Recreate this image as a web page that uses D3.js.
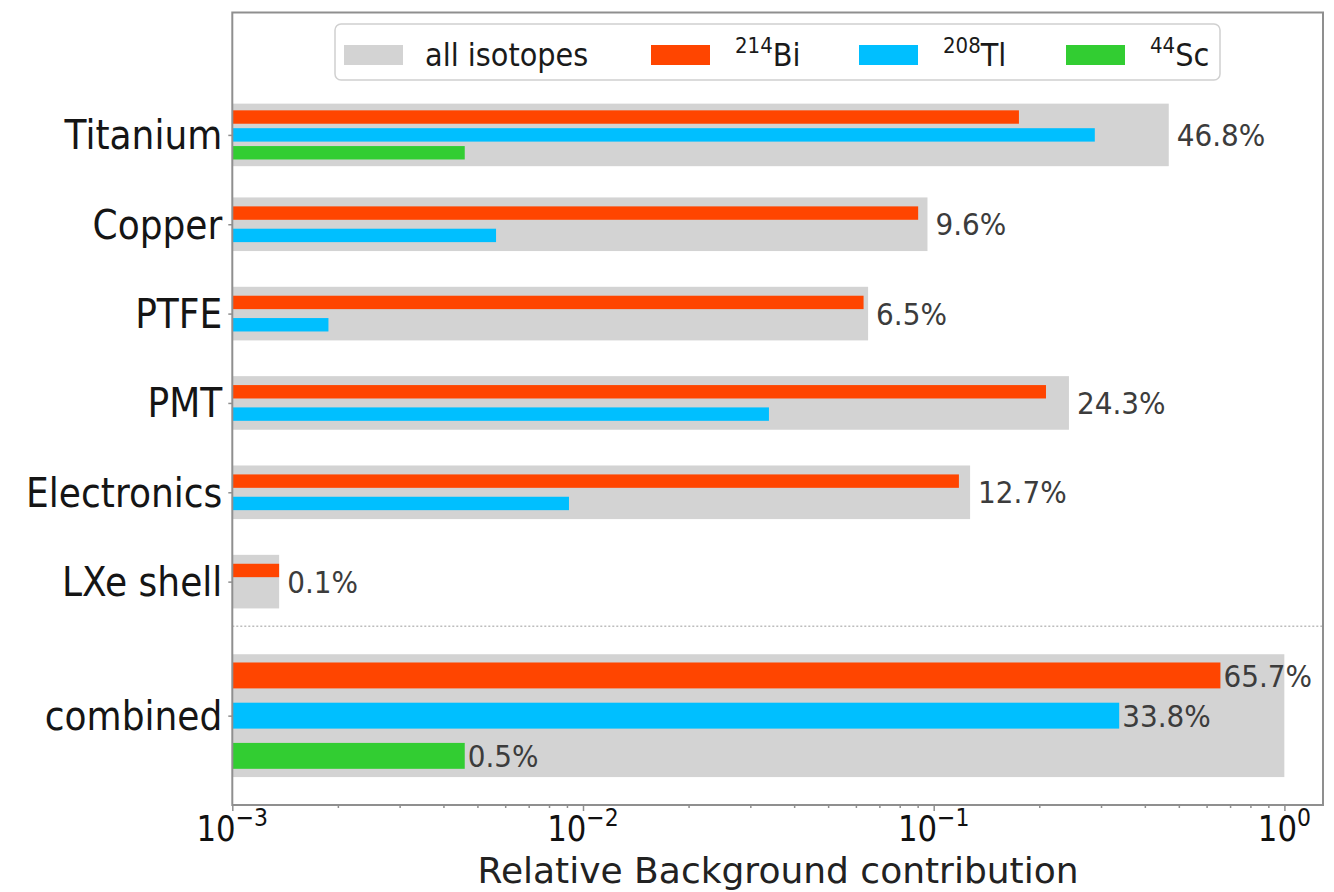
<!DOCTYPE html>
<html>
<head>
<meta charset="utf-8">
<script src="https://cdn.jsdelivr.net/npm/d3@7"></script>
<style>
  html, body { margin: 0; padding: 0; background: #fff; }
  svg { display: block; }
  text { font-family: "DejaVu Sans", sans-serif; }
</style>
</head>
<body>
<svg id="chart" width="1334" height="892"></svg>
<script>
// Relative background contribution per detector component, split by isotope.
const components   = ["Titanium", "Copper", "PTFE", "PMT", "Electronics", "LXe shell"];
const allIsotopes  = [0.468, 0.096, 0.065, 0.243, 0.127, 0.00136];
const bi214        = [0.175, 0.0903, 0.0631, 0.209, 0.118, 0.00136];
const tl208        = [0.288, 0.00565, 0.00188, 0.0339, 0.00912, null];
const sc44         = [0.0046, null, null, null, null, null];

const combinedName   = "combined";
const combinedValues = [0.657, 0.338, 0.0046];   // 214Bi, 208Tl, 44Sc

const isotopeMass   = ["214", "208", "44"];
const isotopeSymbol = ["Bi", "Tl", "Sc"];
const totalLabel    = "all isotopes";

const xTickExponents = [-3, -2, -1, 0];
const xTitle = "Relative Background contribution";

// ---- styling ----
const colors = { all: "#d3d3d3", iso: ["#ff4500", "#00bfff", "#32cd32"] };
const squeeze = 0.9;   // horizontal text compression

const svg = d3.select("#chart");
const plot = { left: 232.3, right: 1323, top: 12.5, bottom: 805 };

const x = d3.scaleLog()
  .domain([1e-3, Math.pow(10, (plot.right - plot.left) / 350.7 - 3)])
  .range([plot.left, plot.right]);

const y = d3.scaleLinear()
  .domain([-1.37, 7.5])
  .range([plot.top, plot.bottom]);

const fmt = v => (v * 100).toFixed(1) + "%";

// Build per-row layout from the data arrays
const rows = components.map((name, i) => {
  const vals = [bi214[i], tl208[i], sc44[i]];
  const nSlots = vals[2] != null ? 3 : 2;
  const offsets = nSlots === 3 ? [-0.2, 0, 0.2] : [-0.125, 0.125];
  return {
    name, pos: i, total: allIsotopes[i],
    grayH: nSlots === 3 ? 0.7 : 0.6, barH: 0.15,
    bars: vals.slice(0, nSlots).map((v, k) => ({ v, k, off: offsets[k] })).filter(b => b.v != null),
    combined: false
  };
});
rows.push({
  name: combinedName, pos: 6.5, total: d3.sum(combinedValues),
  grayH: 1.375, barH: 0.29,
  bars: combinedValues.map((v, k) => ({ v, k, off: [-0.45, 0, 0.45][k] })),
  combined: true
});

const g = svg.append("g");

// grey "all isotopes" bars
g.selectAll("rect.all").data(rows).join("rect")
  .attr("class", "all")
  .attr("x", x(1e-3))
  .attr("width", d => x(d.total) - x(1e-3))
  .attr("y", d => y(d.pos - d.grayH / 2))
  .attr("height", d => y(d.grayH) - y(0))
  .attr("fill", colors.all);

// isotope bars
rows.forEach(r => {
  g.selectAll(null).data(r.bars).join("rect")
    .attr("x", x(1e-3))
    .attr("width", b => x(b.v) - x(1e-3))
    .attr("y", b => y(r.pos + b.off - r.barH / 2))
    .attr("height", y(r.barH) - y(0))
    .attr("fill", b => colors.iso[b.k]);
});

function squeezedText(sel, px, py, anchor, sx) {
  return sel.append("text")
    .attr("transform", `translate(${px},${py}) scale(${sx || squeeze},1)`)
    .attr("text-anchor", anchor || "start");
}

// value labels
rows.forEach(r => {
  if (!r.combined) {
    squeezedText(g, x(r.total) + 8, y(r.pos), "start")
      .attr("dy", "0.36em")
      .attr("font-size", 31).attr("fill", "#3c3c3c")
      .text(fmt(r.total));
  } else {
    r.bars.forEach(b => {
      squeezedText(g, x(b.v) + 3, y(r.pos + b.off), "start")
        .attr("dy", "0.36em")
        .attr("font-size", 31).attr("fill", "#3c3c3c")
        .text(fmt(b.v));
    });
  }
});

// dotted separator between components and the combined row
g.append("line")
  .attr("x1", plot.left).attr("x2", plot.right)
  .attr("y1", y(5.5)).attr("y2", y(5.5))
  .attr("stroke", "#bdbdbd").attr("stroke-width", 1.5)
  .attr("stroke-dasharray", "2,2");

// frame
svg.append("rect")
  .attr("x", plot.left).attr("y", plot.top)
  .attr("width", plot.right - plot.left).attr("height", plot.bottom - plot.top)
  .attr("fill", "none").attr("stroke", "#8f8f8f").attr("stroke-width", 2);

// x axis: major and minor ticks
const minorTicks = [];
for (let e = -3; e < 0; e++) for (let m = 2; m <= 9; m++) minorTicks.push(m * Math.pow(10, e));
const xMinor = svg.append("g").attr("transform", `translate(0,${plot.bottom})`)
  .call(d3.axisBottom(x).tickValues(minorTicks).tickSize(3).tickFormat(""));
const xMajor = svg.append("g").attr("transform", `translate(0,${plot.bottom})`)
  .call(d3.axisBottom(x).tickValues(xTickExponents.map(e => Math.pow(10, e))).tickSize(6).tickFormat(""));
[xMinor, xMajor].forEach(a => {
  a.select(".domain").remove();
  a.selectAll("line").attr("stroke", "#8f8f8f").attr("stroke-width", 1.5);
});

xTickExponents.forEach(e => {
  const t = svg.append("text")
    .attr("transform", `translate(${x(Math.pow(10, e))},841) scale(0.88,1)`)
    .attr("text-anchor", "middle").attr("fill", "#111");
  t.append("tspan").attr("font-size", 35).text("10");
  t.append("tspan").attr("font-size", 25).attr("dy", -15)
    .text(e < 0 ? "\u2212" + Math.abs(e) : String(e));
});

squeezedText(svg, 778, 883, "middle", 1.0)
  .attr("font-size", 36).attr("fill", "#222")
  .text(xTitle);

// y axis ticks and category labels
const yAxis = svg.append("g").attr("transform", `translate(${plot.left},0)`)
  .call(d3.axisLeft(y).tickValues(rows.map(r => r.pos)).tickSize(4).tickFormat(""));
yAxis.select(".domain").remove();
yAxis.selectAll("line").attr("stroke", "#8f8f8f").attr("stroke-width", 1.5);

rows.forEach(r => {
  squeezedText(svg, plot.left - 10, y(r.pos), "end")
    .attr("dy", "0.36em")
    .attr("font-size", 40).attr("fill", "#151515")
    .text(r.name);
});

// legend
const legend = svg.append("g");
legend.append("rect")
  .attr("x", 335).attr("y", 24).attr("width", 885).attr("height", 56)
  .attr("rx", 6).attr("fill", "#fff").attr("stroke", "#d0d0d0").attr("stroke-width", 1.5);

const legendItems = [{ color: colors.all, label: totalLabel }].concat(
  isotopeSymbol.map((s, k) => ({ color: colors.iso[k], mass: isotopeMass[k], sym: s })));
const legendX = [344, 651, 859, 1066];

legendItems.forEach((it, i) => {
  legend.append("rect")
    .attr("x", legendX[i]).attr("y", 45).attr("width", 59).attr("height", 20)
    .attr("fill", it.color);
  const t = legend.append("text")
    .attr("transform", `translate(${legendX[i] + (it.label ? 81 : 84)},66) scale(${squeeze},1)`)
    .attr("fill", "#1a1a1a");
  if (it.label) {
    t.attr("font-size", 32).text(it.label);
  } else {
    t.append("tspan").attr("font-size", 22).attr("dy", -13).text(it.mass);
    t.append("tspan").attr("font-size", 32).attr("dy", 13).text(it.sym);
  }
});
</script>
</body>
</html>
